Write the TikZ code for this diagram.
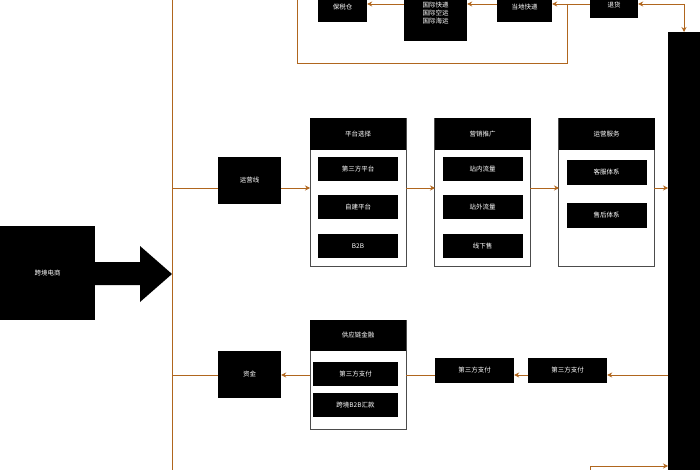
\documentclass[tikz,border=0pt]{standalone}
\usepackage{fontspec}
\setmainfont{Noto Sans CJK SC}
\usetikzlibrary{arrows.meta, positioning}
\definecolor{linebrown}{HTML}{B0661E}

\tikzset{
  blk/.style={fill=black, text=white, font=\fontsize{6.5}{8}\selectfont, inner sep=0pt, align=center},
  frame/.style={draw=black!70, line width=0.8pt, fill=white},
  conn/.style={linebrown, line width=0.8pt},
  arr/.style={conn, -{Stealth[length=5pt, width=5pt]}}
}

\begin{document}
\begin{tikzpicture}[x=1pt, y=-1pt]
  \useasboundingbox (0,0) rectangle (700,470);
  \clip (0,0) rectangle (700,470);

  % spine and right bar
  \coordinate (spT) at (172,0);
  \coordinate (spB) at (172,470);
  \draw[conn] (spT) -- (spB);
  \fill (668,32) rectangle (700,470);
  \coordinate (bar) at (684,32);

  % left source with big arrow
  \node[blk, minimum width=95, minimum height=94] (src) at (47.5,273) {跨境电商};
  \fill (95,262) -- (140,262) -- (140,246) -- (172,274) -- (140,302) -- (140,285) -- (95,285) -- cycle;

  % branch boxes
  \node[blk, minimum width=63, minimum height=47] (ops) at (249.5,180.5) {运营线};
  \node[blk, minimum width=63, minimum height=47] (fund) at (249.5,374.5) {资金};
  \draw[conn] (172,188) -- (ops.west |- 0,188);
  \draw[conn] (172,375) -- (fund.west |- 0,375);

  % three containers
  \foreach \cx/\nm/\ttl in {358/plat/平台选择, 482.5/mkt/营销推广, 606.5/svc/运营服务}{
    \draw[frame] (\cx-48,118) rectangle (\cx+48,266);
    \node[blk, minimum width=96, minimum height=32] (\nm) at (\cx,134) {\ttl};
  }
  \foreach \y/\t [count=\i] in {169/第三方平台, 207/自建平台, 246/B2B}
    \node[blk, minimum width=80, minimum height=24] (plat\i) at (358,\y) {\t};
  \foreach \y/\t [count=\i] in {169/站内流量, 207/站外流量, 246/线下售}
    \node[blk, minimum width=80, minimum height=24] (mkt\i) at (482.5,\y) {\t};
  \foreach \y/\t [count=\i] in {172.5/客服体系, 215.5/售后体系}
    \node[blk, minimum width=80, minimum height=25] (svc\i) at (606.5,\y) {\t};

  \draw[arr] (ops.east |- 0,188) -- (310,188);
  \draw[arr] (406,188) -- (435,188);
  \draw[arr] (530,188) -- (559,188);
  \draw[arr] (654,188) -- (668,188);

  % supply chain finance
  \draw[frame] (310,320) rectangle (406,429);
  \node[blk, minimum width=96, minimum height=31] (scf) at (358,335) {供应链金融};
  \node[blk, minimum width=85, minimum height=24] (scf1) at (355.5,374) {第三方支付};
  \node[blk, minimum width=85, minimum height=24] (scf2) at (355.5,405) {跨境B2B汇款};
  \node[blk, minimum width=79, minimum height=25] (pay1) at (474.5,370.5) {第三方支付};
  \node[blk, minimum width=79, minimum height=25] (pay2) at (567.5,370.5) {第三方支付};
  \draw[arr] (668,375) -- (pay2.east |- 0,375);
  \draw[arr] (pay2.west |- 0,375) -- (pay1.east |- 0,375);
  \draw[conn] (pay1.west |- 0,375) -- (406,375);
  \draw[arr] (310,375) -- (fund.east |- 0,375);

  % top row (returns)
  \node[blk, minimum width=49, minimum height=30] (bond) at (342.5,7) {保税仓};
  \node[blk, minimum width=63, minimum height=56] (intl) at (435.5,13) {国际快递\\国际空运\\国际海运};
  \node[blk, minimum width=55, minimum height=30] (loc) at (524.5,7) {当地快递};
  \node[blk, minimum width=48, minimum height=26] (ret) at (614,5) {退货};
  \coordinate (retR) at (684,4);
  \draw[arr] (retR) -- (bar);
  \draw[arr] (retR) -- (ret.east |- 0,4);
  \draw[arr] (ret.west |- 0,4) -- (loc.east |- 0,4);
  \draw[arr] (loc.west |- 0,4) -- (intl.east |- 0,4);
  \draw[arr] (intl.west |- 0,4) -- (bond.east |- 0,4);
  \draw[conn] (567,4) -- (567,63) -- (297,63) -- (297,0);

  % bottom link into bar
  \draw[arr] (590,470) -- (590,466) -- (668,466);
\end{tikzpicture}
\end{document}
